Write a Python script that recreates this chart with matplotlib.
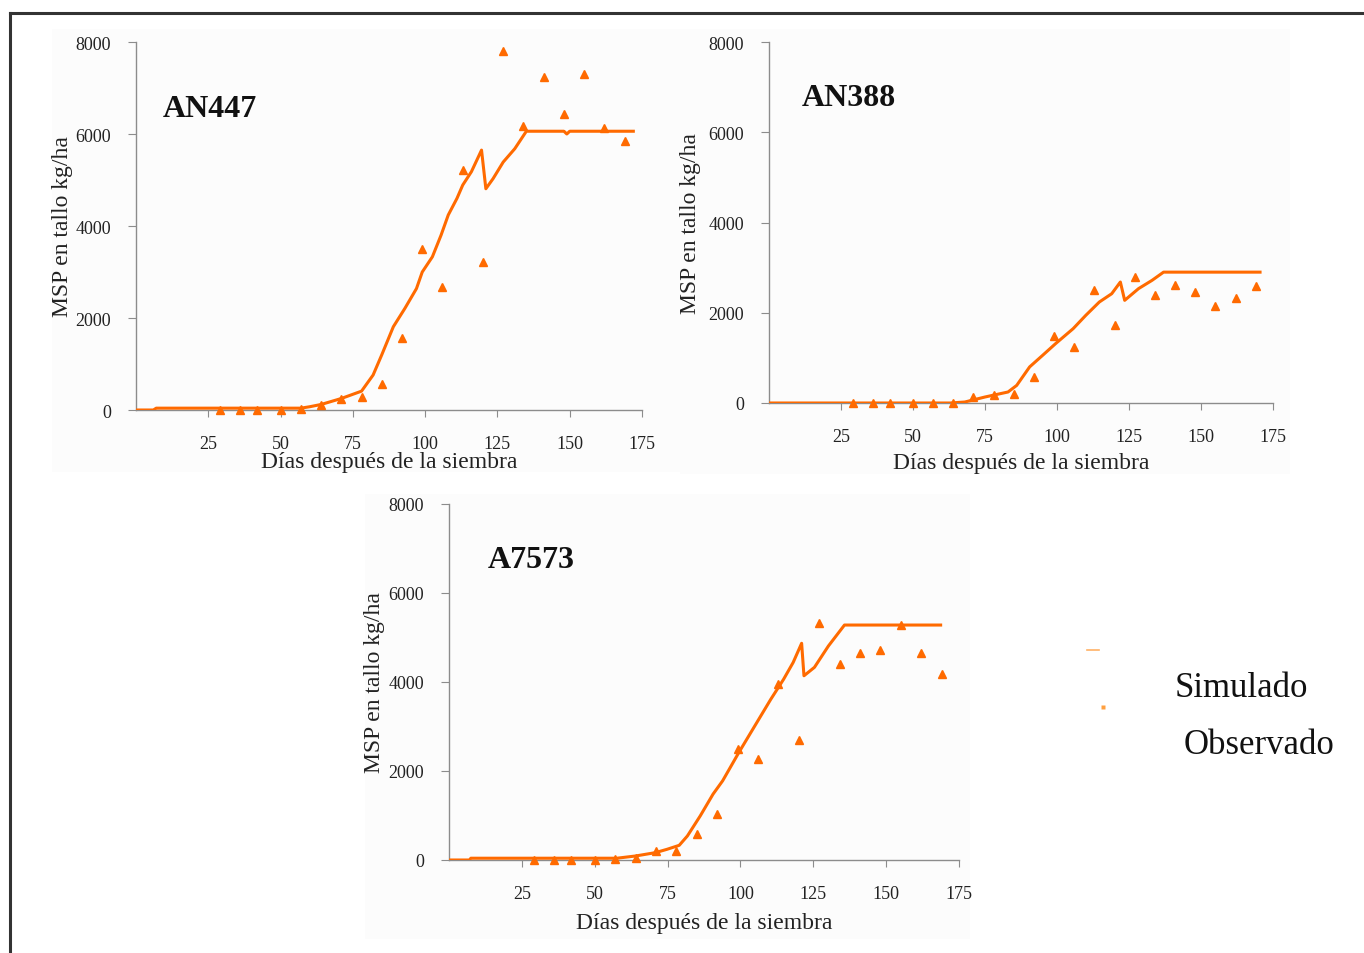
import matplotlib
matplotlib.use("Agg")
import matplotlib.pyplot as plt
from matplotlib.lines import Line2D
from matplotlib.patches import Rectangle

plt.rcParams["font.family"] = ["Liberation Serif", "DejaVu Serif"]

LARANJA = "#ff6a00"

# dias de amostragem (observado)
dias_obs = [29, 36, 42, 50, 57, 64, 71, 78, 85, 92, 99, 106, 113, 120, 127,
            134, 141, 148, 155, 162, 169]

# AN447
an447_dias_sim = [0, 6, 7, 57, 60, 64, 71, 78, 82, 85, 89, 93, 97, 99, 102.5,
                  105.5, 108, 111, 113, 116, 119.5, 121, 123.5, 127, 131, 135,
                  148, 149, 150, 172]
an447_sim = [0, 0, 40, 40, 70, 120, 250, 410, 760, 1200, 1810, 2210, 2640,
             3000, 3330, 3800, 4240, 4600, 4890, 5180, 5650, 4810, 5030, 5390,
             5680, 6060, 6060, 6000, 6060, 6060]
an447_obs = [0, 0, 0, 0, 30, 100, 250, 290, 565, 1560, 3510, 2680, 5210, 3210,
             7800, 6180, 7230, 6440, 7300, 6120, 5850]

# AN388
an388_dias_sim = [0, 63, 68, 75, 83, 86, 90.5, 95, 99.5, 105.6, 110, 114.7,
                  119, 122, 123.5, 128.3, 133, 137, 170.5]
an388_sim = [0, 0, 22, 133, 244, 390, 800, 1056, 1315, 1647, 1943, 2238, 2422,
             2681, 2275, 2534, 2718, 2900, 2900]
an388_obs = [0, 0, 0, 0, 0, 0, 133, 170, 207, 576, 1477, 1241, 2497, 1736,
             2792, 2386, 2622, 2460, 2150, 2327, 2593]

# A7573
a7573_dias_sim = [0, 7, 7.5, 57.6, 64, 70.8, 74.8, 79, 81.8, 86.2, 90.6, 93.9,
                  99.4, 104.9, 110.4, 114.8, 118.1, 121, 121.8, 125.4, 130.2,
                  135.7, 168.7]
a7573_sim = [0, 0, 40, 40, 90, 165, 240, 330, 540, 990, 1480, 1780, 2410, 3010,
             3610, 4060, 4440, 4870, 4140, 4330, 4810, 5280, 5280]
a7573_obs = [0, 0, 0, 0, 15, 52, 200, 200, 580, 1030, 2500, 2280, 3950, 2700,
             5320, 4400, 4650, 4710, 5280, 4650, 4180]

x_ticks = [25, 50, 75, 100, 125, 150, 175]
y_ticks = [0, 2000, 4000, 6000, 8000]


def painel(fig, pos, nome, dias_sim, sim, obs, pos_nome, ylab_x, xlab_y):
    ax = fig.add_axes(pos)
    ax.patch.set_alpha(0)
    ax.plot(dias_sim, sim, color=LARANJA, lw=2.2, solid_joinstyle="round",
            zorder=3)
    ax.plot(dias_obs, obs, ls="none", marker="^", ms=5.5, color=LARANJA,
            mec=LARANJA, zorder=4, clip_on=False)
    ax.set_xlim(0, 175)
    ax.set_ylim(0, 8000)
    ax.set_xticks(x_ticks)
    ax.set_yticks(y_ticks)
    for lado in ["top", "right"]:
        ax.spines[lado].set_visible(False)
    for lado in ["left", "bottom"]:
        ax.spines[lado].set_color("#8c8c8c")
        ax.spines[lado].set_linewidth(1.0)
    ax.tick_params(axis="x", direction="out", length=5, color="#8c8c8c",
                   pad=13, labelsize=13, labelcolor="#222222")
    ax.tick_params(axis="y", direction="out", length=6, color="#8c8c8c",
                   pad=12, labelsize=13, labelcolor="#222222")
    ax.set_xlabel("Días después de la siembra", fontsize=17, color="#222222")
    ax.xaxis.set_label_coords(0.5, xlab_y)
    ax.set_ylabel("MSP en tallo kg/ha", fontsize=17, color="#222222")
    ax.yaxis.set_label_coords(ylab_x, 0.5)
    ax.text(pos_nome[0], pos_nome[1], nome, transform=ax.transAxes,
            fontsize=23, fontweight="bold", ha="left", va="baseline",
            color="#111111")
    return ax


fig = plt.figure(figsize=(13.64, 9.54), dpi=100)
W, H = 1364, 954

# fundos leves dos paineis, atras dos eixos
for x0, y0, x1, y1 in [(52, 30, 680, 473), (680, 30, 1290, 475),
                       (365, 495, 970, 940)]:
    fig.patches.append(Rectangle((x0 / W, 1 - y1 / H), (x1 - x0) / W,
                                 (y1 - y0) / H, transform=fig.transFigure,
                                 facecolor="#fcfcfc", edgecolor="none",
                                 zorder=-5))

painel(fig, [136 / W, 1 - 411 / H, 506 / W, 368 / H], "AN447",
       an447_dias_sim, an447_sim, an447_obs, (0.053, 0.80), -0.125, -0.111)
painel(fig, [769 / W, 1 - 404 / H, 504 / W, 361 / H], "AN388",
       an388_dias_sim, an388_sim, an388_obs, (0.064, 0.825), -0.135, -0.136)
painel(fig, [449 / W, 1 - 861 / H, 510 / W, 356 / H], "A7573",
       a7573_dias_sim, a7573_sim, a7573_obs, (0.075, 0.823), -0.125, -0.146)

# legenda
fig.add_artist(Line2D([1087 / W, 1099 / W], [1 - 651 / H, 1 - 651 / H],
                      transform=fig.transFigure, color="#ffb266", lw=1.2))
fig.add_artist(Line2D([1103 / W], [1 - 708 / H], transform=fig.transFigure,
                      ls="none", marker="s", ms=2.5, color="#ffa040",
                      mec="none"))
fig.text(1175 / W, 1 - 697 / H, "Simulado", fontsize=25, ha="left",
         va="baseline", color="#111111")
fig.text(1184 / W, 1 - 754 / H, "Observado", fontsize=25, ha="left",
         va="baseline", color="#111111")

# moldura
fig.add_artist(Line2D([10 / W, 1.0], [1 - 14 / H, 1 - 14 / H],
                      transform=fig.transFigure, color="#333333", lw=2.2))
fig.add_artist(Line2D([10 / W, 10 / W], [1 - 14 / H, 0],
                      transform=fig.transFigure, color="#333333", lw=2.2))

plt.savefig("out.png", dpi=100)
plt.close()
